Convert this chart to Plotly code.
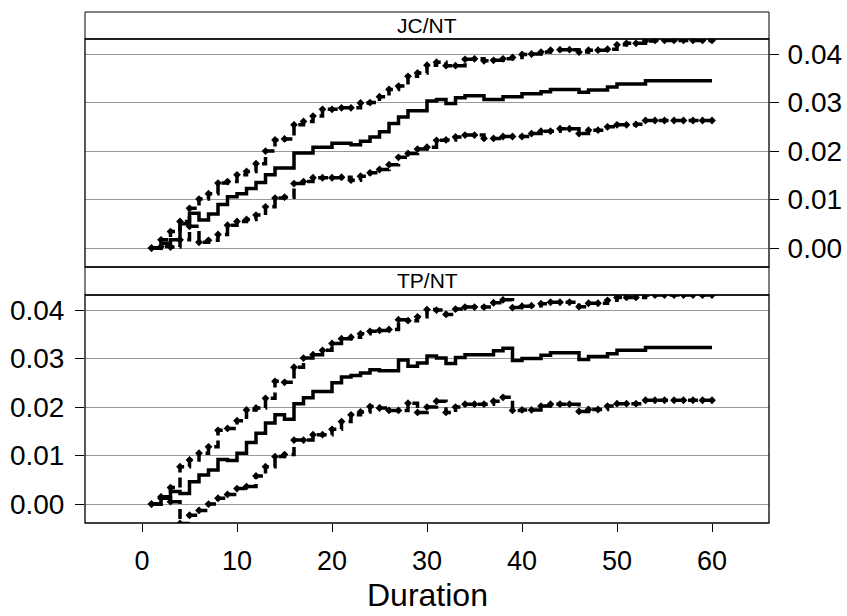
import plotly.graph_objects as go

duration = list(range(1, 61))

# JC/NT panel (top)
jc_est = [0.0000, 0.0010, 0.0017, 0.0050, 0.0072, 0.0058, 0.0070, 0.0090, 0.0106, 0.0112,
          0.0123, 0.0135, 0.0151, 0.0165, 0.0165, 0.0196, 0.0196, 0.0208, 0.0208, 0.0216,
          0.0216, 0.0213, 0.0220, 0.0229, 0.0240, 0.0257, 0.0270, 0.0283, 0.0283, 0.0303,
          0.0306, 0.0298, 0.0310, 0.0314, 0.0314, 0.0306, 0.0306, 0.0312, 0.0312, 0.0318,
          0.0318, 0.0322, 0.0327, 0.0327, 0.0327, 0.0321, 0.0326, 0.0326, 0.0332, 0.0338,
          0.0338, 0.0338, 0.0345, 0.0345, 0.0345, 0.0345, 0.0345, 0.0345, 0.0345, 0.0345]
jc_upper = [0.0000, 0.0017, 0.0034, 0.0055, 0.0082, 0.0101, 0.0112, 0.0134, 0.0137, 0.0151,
            0.0158, 0.0174, 0.0200, 0.0223, 0.0225, 0.0254, 0.0261, 0.0272, 0.0286, 0.0286,
            0.0289, 0.0289, 0.0299, 0.0300, 0.0312, 0.0327, 0.0334, 0.0354, 0.0361, 0.0377,
            0.0383, 0.0376, 0.0376, 0.0389, 0.0390, 0.0386, 0.0387, 0.0390, 0.0393, 0.0399,
            0.0400, 0.0404, 0.0408, 0.0409, 0.0409, 0.0404, 0.0408, 0.0408, 0.0410, 0.0419,
            0.0422, 0.0422, 0.0427, 0.0428, 0.0428, 0.0428, 0.0428, 0.0428, 0.0428, 0.0428]
jc_lower = [0.0000, 0.0003, 0.0002, 0.0017, 0.0045, 0.0012, 0.0016, 0.0028, 0.0047, 0.0055,
            0.0059, 0.0068, 0.0085, 0.0103, 0.0105, 0.0133, 0.0137, 0.0145, 0.0145, 0.0145,
            0.0146, 0.0140, 0.0148, 0.0155, 0.0162, 0.0172, 0.0187, 0.0195, 0.0204, 0.0208,
            0.0222, 0.0223, 0.0229, 0.0233, 0.0233, 0.0226, 0.0226, 0.0230, 0.0230, 0.0230,
            0.0236, 0.0241, 0.0241, 0.0246, 0.0246, 0.0236, 0.0243, 0.0243, 0.0250, 0.0254,
            0.0254, 0.0255, 0.0263, 0.0263, 0.0263, 0.0263, 0.0263, 0.0263, 0.0263, 0.0263]

# TP/NT panel (bottom)
tp_est = [0.0000, 0.0013, 0.0026, 0.0022, 0.0046, 0.0060, 0.0070, 0.0092, 0.0090, 0.0105,
          0.0127, 0.0146, 0.0167, 0.0184, 0.0175, 0.0207, 0.0219, 0.0232, 0.0232, 0.0250,
          0.0262, 0.0265, 0.0270, 0.0277, 0.0275, 0.0275, 0.0297, 0.0284, 0.0291, 0.0305,
          0.0301, 0.0290, 0.0302, 0.0308, 0.0308, 0.0308, 0.0316, 0.0321, 0.0296, 0.0300,
          0.0300, 0.0307, 0.0312, 0.0312, 0.0312, 0.0298, 0.0304, 0.0304, 0.0310, 0.0317,
          0.0317, 0.0317, 0.0323, 0.0323, 0.0323, 0.0323, 0.0323, 0.0323, 0.0323, 0.0323]
tp_upper = [0.0000, 0.0015, 0.0034, 0.0077, 0.0091, 0.0105, 0.0118, 0.0152, 0.0156, 0.0172,
            0.0194, 0.0198, 0.0218, 0.0253, 0.0251, 0.0282, 0.0301, 0.0308, 0.0317, 0.0331,
            0.0341, 0.0344, 0.0351, 0.0356, 0.0358, 0.0360, 0.0380, 0.0378, 0.0386, 0.0401,
            0.0400, 0.0391, 0.0402, 0.0406, 0.0406, 0.0406, 0.0415, 0.0421, 0.0405, 0.0408,
            0.0409, 0.0413, 0.0416, 0.0416, 0.0416, 0.0407, 0.0414, 0.0414, 0.0420, 0.0426,
            0.0426, 0.0426, 0.0431, 0.0431, 0.0431, 0.0431, 0.0431, 0.0431, 0.0431, 0.0431]
tp_lower = [0.0000, 0.0012, 0.0005, -0.0040, -0.0023, -0.0013, 0.0000, 0.0012, 0.0020, 0.0032,
            0.0036, 0.0058, 0.0077, 0.0098, 0.0102, 0.0132, 0.0132, 0.0143, 0.0143, 0.0154,
            0.0170, 0.0184, 0.0190, 0.0201, 0.0198, 0.0193, 0.0193, 0.0208, 0.0189, 0.0200,
            0.0212, 0.0189, 0.0200, 0.0206, 0.0206, 0.0206, 0.0212, 0.0220, 0.0193, 0.0194,
            0.0194, 0.0202, 0.0206, 0.0206, 0.0206, 0.0191, 0.0195, 0.0195, 0.0202, 0.0207,
            0.0207, 0.0207, 0.0214, 0.0214, 0.0214, 0.0214, 0.0214, 0.0214, 0.0214, 0.0214]

panel_names = ["JC/NT", "TP/NT"]
x_ticks = [0, 10, 20, 30, 40, 50, 60]
y_ticks = [0.00, 0.01, 0.02, 0.03, 0.04]

FONT = "Liberation Sans, Arial, sans-serif"
DASH = "10px,5px"

fig = go.Figure()

def add_panel(est, up, lo, yaxis):
    for vals, dashed in ((up, True), (est, False), (lo, True)):
        fig.add_trace(go.Scatter(
            x=duration, y=vals, xaxis="x", yaxis=yaxis,
            mode="lines+markers" if dashed else "lines",
            line=dict(shape="hv", color="black", width=3.5,
                      dash=DASH if dashed else "solid"),
            marker=dict(symbol="diamond", size=6, color="black"),
            showlegend=False, hoverinfo="skip"))

add_panel(jc_est, jc_upper, jc_lower, "y2")
add_panel(tp_est, tp_upper, tp_lower, "y")

yr = [-0.0039, 0.0431]
bot_dom = [0.0, 0.4462]
top_dom = [0.501, 0.9472]

common_y = dict(range=yr, tickvals=y_ticks, tickformat=".2f", automargin=False,
                showgrid=True, gridcolor="#9a9a9a", gridwidth=1, zeroline=False,
                ticks="outside", ticklen=9, tickcolor="black", tickwidth=1,
                showline=False, tickfont=dict(family=FONT, size=28, color="black"))

fig.update_layout(
    width=847, height=616,
    margin=dict(l=85, r=78, t=12, b=93, autoexpand=False),
    paper_bgcolor="white", plot_bgcolor="white",
    font=dict(family=FONT, color="black"),
    xaxis=dict(domain=[0, 1], range=[-6, 66], tickvals=x_ticks, automargin=False,
               ticks="outside", ticklen=8, tickcolor="black", tickwidth=1,
               showgrid=False, zeroline=False, showline=False, anchor="y",
               tickfont=dict(family=FONT, size=27, color="black"),
               ticklabelstandoff=6),
    yaxis=dict(domain=bot_dom, anchor="x", side="left", ticklabelstandoff=5, **common_y),
    yaxis2=dict(domain=top_dom, anchor="x", side="right", ticklabelstandoff=3, **common_y),
)

shapes = []
strips = [(top_dom[1], 1.0, panel_names[0]), (bot_dom[1], top_dom[0], panel_names[1])]
for y0, y1, name in strips:
    shapes.append(dict(type="rect", xref="paper", yref="paper", x0=0, x1=1, y0=y0, y1=y1,
                       line=dict(color="black", width=1), fillcolor="white", layer="above"))
    fig.add_annotation(x=0.5, y=(y0 + y1) / 2, xref="paper", yref="paper",
                       text=name, showarrow=False, yanchor="middle",
                       font=dict(family=FONT, size=21, color="black"))
for dom in (bot_dom, top_dom):
    shapes.append(dict(type="rect", xref="paper", yref="paper", x0=0, x1=1,
                       y0=dom[0], y1=dom[1], line=dict(color="black", width=1.3),
                       layer="above"))
fig.update_layout(shapes=shapes)

fig.add_annotation(x=0.5, y=-0.141, xref="paper", yref="paper", text="Duration",
                   showarrow=False, yanchor="middle",
                   font=dict(family=FONT, size=32, color="black"))

fig.write_html("out.html", config={"displayModeBar": False},
               post_script="document.body.style.margin='0';document.body.style.overflow='hidden';")
